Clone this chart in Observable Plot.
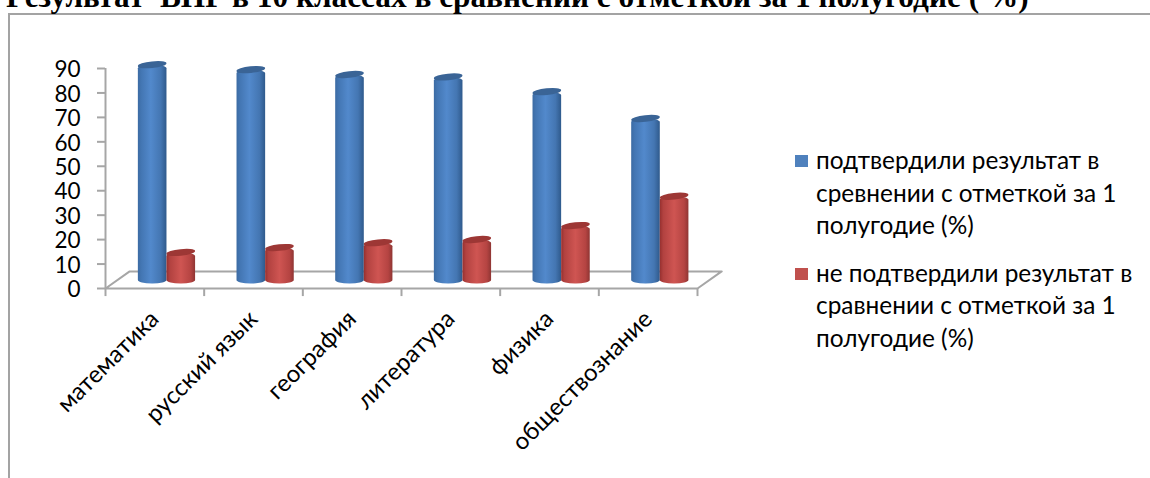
<!DOCTYPE html>
<html lang="ru"><head><meta charset="utf-8">
<script src="https://cdn.jsdelivr.net/npm/d3@7"></script>
<script src="https://cdn.jsdelivr.net/npm/@observablehq/plot@0.6"></script>
<style>
html,body{margin:0;padding:0;background:#fff;overflow:hidden}
#stage{position:relative;width:1150px;height:478px;overflow:hidden}
#title{position:absolute;left:6px;top:-21px;font:bold 31.3px "Liberation Serif",serif;white-space:pre;color:#000}
#frame{position:absolute;left:8px;top:13px;width:1142px;height:465px;border-left:2px solid #a3a3a3;border-top:2px solid #a3a3a3}
#chart{position:absolute;left:0;top:0}
#legend{position:absolute;left:795px;top:144px;width:345px;font:24.4px/32.5px Lato,sans-serif;color:#000}
.item{position:relative;padding-left:21px;margin-bottom:15px}
.sw{position:absolute;left:0;top:11px;width:13px;height:12px}
</style></head><body>
<div id="stage">
<div id="frame"></div>
<div id="title"></div>
<div id="chart"></div>
<div id="legend"></div>
</div>
<script>
const titleText = "Результат  ВПР в 10 классах в сравнении с отметкой за 1 полугодие ( %)";
const categories = ["математика","русский язык","география","литература","физика","обществознание"];
const confirmed = [89.5,87.5,85.5,84.5,78.5,67.5];
const notConfirmed = [12.7,14.7,16.7,18,23.7,35.7];
const seriesNames = ["подтвердили результат в сревнении с отметкой за 1 полугодие (%)","не подтвердили результат в сравнении с отметкой за 1 полугодие (%)"];
const seriesColors = ["#4f81bd","#c0504d"];
const yTicks = [0,10,20,30,40,50,60,70,80,90];
const xTicks = [0,1,2,3,4,5,6];
const axisColor = "#a6a6a6";

document.getElementById("title").textContent = titleText;
document.getElementById("legend").innerHTML = seriesNames.map((n,i)=>
  `<div class="item"><span class="sw" style="background:${seriesColors[i]}"></span>${n}</div>`).join("");

const blue = categories.map((c,i)=>({c,i,v:confirmed[i]}));
const red = categories.map((c,i)=>({c,i,v:notConfirmed[i]}));
const floor = [[0,0],[6,0],[6.245,7],[0.245,7],[0,0]].map(([x,y])=>({x,y}));

const defs = () => {
  const s = d3.create("svg:defs");
  const grad=(id,stops)=>{const g=s.append("linearGradient").attr("id",id);
    stops.forEach(([o,c])=>g.append("stop").attr("offset",o).attr("stop-color",c));};
  grad("gBlue",[[0,"#3c6ba3"],[.12,"#4376b3"],[.45,"#5289cc"],[.8,"#4476b2"],[1,"#2f5a8c"]]);
  grad("gRed",[[0,"#96302f"],[.12,"#b24240"],[.5,"#cf5552"],[.85,"#b54442"],[1,"#8f3533"]]);
  return s.node();
};
const tilt = (index,scales,values,dims,ctx,next)=>{
  const g = next(index,scales,values,dims,ctx);
  d3.select(g).selectAll("rect").each(function(){
    const r=d3.select(this), x=+r.attr("x")+(+r.attr("width"))/2, y=+r.attr("y")+(+r.attr("height"))/2;
    r.attr("transform",`rotate(-6 ${x} ${y})`);
  });
  return g;
};
const bw = 0.29, off = 0.118;
const x1b=d=>d.i+off+0.215, x2b=d=>d.i+off+0.215+bw, x1r=d=>d.i+off+0.215+bw, x2r=d=>d.i+off+0.215+2*bw;
const body=(data,a,b,fill)=>Plot.rect(data,{x1:a,x2:b,y1:0,y2:d=>d.v,dy:-4.5,fill,rx:14,ry:3.5});
const cap=(data,a,b,fill)=>Plot.rect(data,{x1:a,x2:b,y1:d=>d.v-1.35,y2:d=>d.v+1.35,dy:-4.5,fill,rx:14.5,ry:3,render:tilt});

const plot = Plot.plot({
  width:1150,height:478,
  marginLeft:105,marginRight:453,marginTop:68,marginBottom:190,
  style:{background:"transparent",overflow:"visible"},
  x:{type:"linear",domain:[0,6],label:null,axis:null},
  y:{type:"linear",domain:[0,90],label:null,axis:null},
  marks:[
    defs,
    Plot.line(floor,{x:"x",y:"y",stroke:axisColor,strokeWidth:2}),
    Plot.ruleX([0],{y1:0,y2:90,stroke:axisColor,strokeWidth:2}),
    Plot.axisY({ticks:yTicks,tickSize:8,stroke:axisColor,strokeWidth:2,label:null,anchor:"left",tickFormat:()=>""}),
    Plot.text(yTicks,{x:()=>0,y:d=>d,text:d=>String(d),dx:-25,dy:1.5,textAnchor:"end",fontSize:22.5,fontFamily:"Lato",fill:"#000"}),
    Plot.ruleX(xTicks,{x:d=>d,y1:0,y2:-3.3,stroke:axisColor,strokeWidth:2}),
    body(blue,x1b,x2b,"url(#gBlue)"),
    cap(blue,x1b,x2b,"#3a6496"),
    body(red,x1r,x2r,"url(#gRed)"),
    cap(red,x1r,x2r,"#9d3735"),
    Plot.text(categories,{x:(d,i)=>i+0.5,y:()=>0,text:d=>d,rotate:-45,textAnchor:"end",lineAnchor:"middle",dx:0,dy:26.5,fontSize:24,fontFamily:"Lato",fill:"#000"})
  ]
});
document.getElementById("chart").append(plot);
</script>
</body></html>
